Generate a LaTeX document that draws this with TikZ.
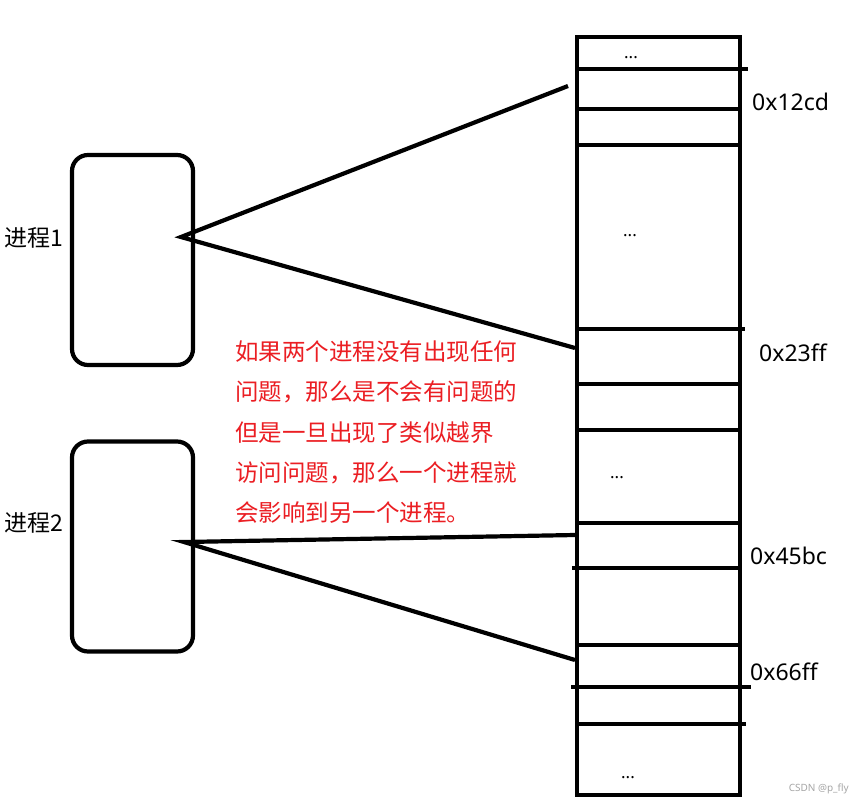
\documentclass[tikz,border=0pt]{standalone}
\usepackage{fontspec}
\setmainfont{Noto Sans}
\newfontfamily\cjk{Noto Sans CJK SC}
\definecolor{txtred}{RGB}{235,30,35}
\begin{document}
\begin{tikzpicture}[x=1pt,y=-1pt,
  procbox/.style={draw,line width=4.2pt,rounded corners=16pt,minimum width=121pt,minimum height=210pt,inner sep=0pt},
  conn/.style={line width=4.2pt},
  cell/.style={line width=3.3pt},
  addr/.style={font=\fontsize{23}{26}\selectfont,anchor=west,inner sep=0pt},
  plabel/.style={font=\cjk\fontsize{23}{26}\selectfont,inner sep=0pt},
  dots/.style={font=\bfseries\fontsize{17}{19}\selectfont,inner sep=0pt},
  note/.style={font=\cjk\fontsize{23.5}{26}\selectfont,text=txtred,anchor=west,inner sep=0pt}]
\useasboundingbox (0,0) rectangle (863,804);
\fill[white] (0,0) rectangle (863,804);
% process boxes
\node[procbox] (p1) at (132.5,260) {};
\node[procbox] (p2) at (132.5,546.5) {};
\node[plabel] (l1) at (34,238) {进程1};
\node[plabel] (l2) at (34,523) {进程2};
% memory column
\coordinate (mtl) at (577,37);
\coordinate (mbr) at (740,795);
\draw[line width=4.6pt] (mtl) rectangle (mbr);
\foreach \y/\xa/\xb in {69/577/748, 109/577/740, 145/577/740, 329/577/745, 384/577/740, 430/577/740, 523/577/740, 568/572/740, 645/577/740, 687/571/751, 724/577/746}
  \draw[cell] (\xa,\y) -- (\xb,\y);
\node[dots] (d1) at (631,58) {...};
\node[dots] (d2) at (630,236) {...};
\node[dots] (d3) at (617,478) {...};
\node[dots] (d4) at (628,778) {...};
\node[addr] (a1) at (752,102) {0x12cd};
\node[addr] (a2) at (759,353) {0x23ff};
\node[addr] (a3) at (750,556) {0x45bc};
\node[addr] (a4) at (750,672) {0x66ff};
% connectors
\coordinate (t1) at (181,237);
\coordinate (t2) at (184,542);
\coordinate (m1) at (568,86);
\coordinate (m2) at (575,348);
\coordinate (m3) at (575,535);
\coordinate (m4) at (575,660);
\draw[conn] (m1) -- (t1) -- (m2);
\draw[conn] (m3) -- (t2) -- (m4);
% note
\node[note] (n1) at (235,352) {如果两个进程没有出现任何};
\node[note] (n2) at (235,392) {问题，那么是不会有问题的};
\node[note] (n3) at (235,433) {但是一旦出现了类似越界};
\node[note] (n4) at (235,473) {访问问题，那么一个进程就};
\node[note] (n5) at (235,513) {会影响到另一个进程。};
\node[font=\fontsize{10}{11}\selectfont,text=gray!70,anchor=east,inner sep=0pt] (wm) at (849,789) {CSDN @p\_fly};
\end{tikzpicture}
\end{document}
